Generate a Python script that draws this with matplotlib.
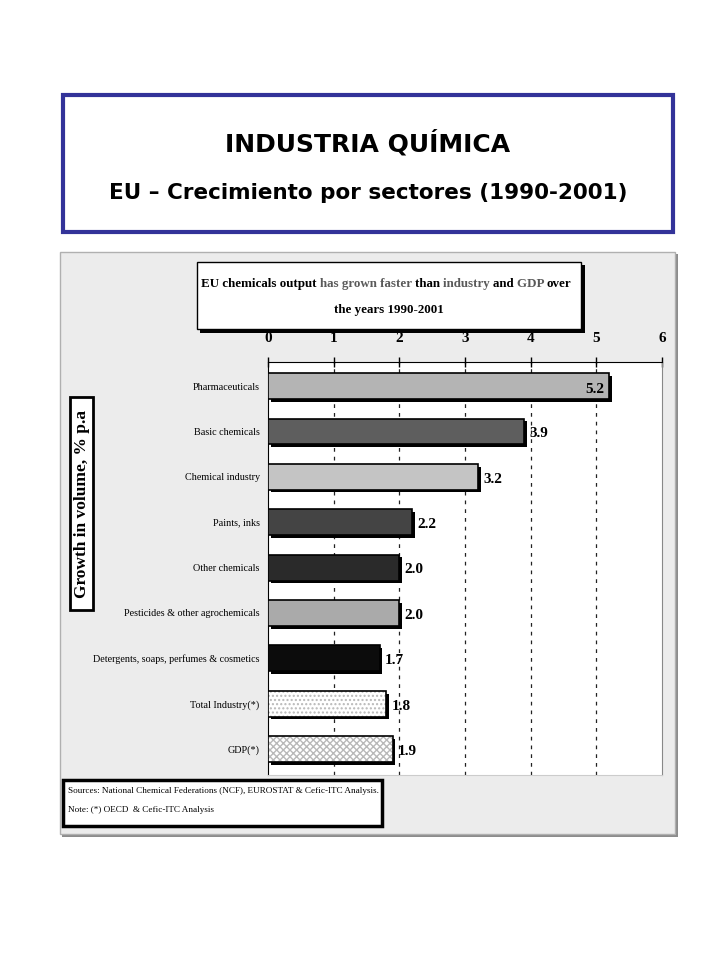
import numpy as np
import matplotlib
matplotlib.use("Agg")
import matplotlib.pyplot as plt
from matplotlib.patches import Rectangle
from matplotlib.text import Annotation

W, H = 720, 960

sectors = ["Pharmaceuticals", "Basic chemicals", "Chemical industry", "Paints, inks",
           "Other chemicals", "Pesticides & other agrochemicals",
           "Detergents, soaps, perfumes & cosmetics", "Total Industry(*)", "GDP(*)"]
growth = [5.2, 3.9, 3.2, 2.2, 2.0, 2.0, 1.7, 1.8, 1.9]
bar_colors = ["#b4b4b4", "#5e5e5e", "#c4c4c4", "#444444", "#2a2a2a",
              "#aaaaaa", "#0c0c0c", "#ffffff", "#ffffff"]
bar_hatch = [None, None, None, None, None, None, None, "....", "xxxxx"]
xticks = [0, 1, 2, 3, 4, 5, 6]

title1 = "INDUSTRIA QUÍMICA"
title2 = "EU – Crecimiento por sectores (1990-2001)"
sub_parts = [("EU chemicals output ", "black"), ("has grown faster ", "#5a5a5a"),
             ("than ", "black"), ("industry ", "#5a5a5a"), ("and ", "black"),
             ("GDP ", "#5a5a5a"), ("over", "black")]
sub_line2 = "the years 1990-2001"
ylabel = "Growth in volume, % p.a"
sources = ["Sources: National Chemical Federations (NCF), EUROSTAT & Cefic-ITC Analysis.",
           "Note: (*) OECD  & Cefic-ITC Analysis"]

SERIF = ["Liberation Serif", "DejaVu Serif"]


def fx(x):
    return x / W


def fy(y):
    return 1 - y / H


def box(x0, y0, x1, y1, **kw):
    r = Rectangle((fx(x0), fy(y1)), fx(x1) - fx(x0), fy(y0) - fy(y1),
                  transform=fig.transFigure, **kw)
    fig.add_artist(r)
    return r


fig = plt.figure(figsize=(7.2, 9.6), dpi=100)
fig.patch.set_facecolor("white")

# main title box
box(63, 95, 673, 232, facecolor="white", edgecolor="#333399", lw=3, zorder=1)
fig.text(fx(368), fy(143), title1, ha="center", va="center", fontsize=18,
         fontweight="bold", family="DejaVu Sans")
fig.text(fx(368), fy(193), title2, ha="center", va="center", fontsize=15.5,
         fontweight="bold", family="DejaVu Sans")

# grey chart panel
box(62, 254, 678, 837, facecolor="#8c8c8c", edgecolor="none", zorder=1)
box(60, 252, 675, 834, facecolor="#ececec", edgecolor="#b0b0b0", lw=1, zorder=1)

# inner title box
box(200, 265, 585, 333, facecolor="black", edgecolor="none", zorder=5)
box(197, 262, 581, 329, facecolor="white", edgecolor="black", lw=1, zorder=5)
sfs = 9.4
prev = fig.text(fx(201), fy(290), sub_parts[0][0], ha="left", va="bottom",
                fontsize=sfs, fontweight="bold", family=SERIF,
                color=sub_parts[0][1], zorder=6)
for txt, col in sub_parts[1:]:
    prev = fig.add_artist(Annotation(txt, xy=(1, 0), xycoords=prev, ha="left",
                                     va="bottom", fontsize=sfs, fontweight="bold",
                                     family=SERIF, color=col, zorder=6))
fig.text(fx(389), fy(310), sub_line2, ha="center", va="center", fontsize=sfs,
         fontweight="bold", family=SERIF, zorder=6)

# plot area
ax = fig.add_axes([fx(268), fy(775), fx(662) - fx(268), fy(362) - fy(775)], zorder=4)
ax.set_facecolor("white")
ypos = np.arange(len(sectors))
bh = 0.57
for i, (v, c, h) in enumerate(zip(growth, bar_colors, bar_hatch)):
    ax.barh(ypos[i] + 0.06, v, left=0.04, height=bh, color="black", zorder=2)
    if h:
        ax.barh(ypos[i], v, height=bh, color="white", edgecolor="#b8b8b8",
                hatch=h, lw=0, zorder=3)
        ax.barh(ypos[i], v, height=bh, fill=False, edgecolor="black", lw=1.2, zorder=4)
    else:
        ax.barh(ypos[i], v, height=bh, color=c, edgecolor="black", lw=1.2, zorder=3)
    if i == 0:
        ax.text(v - 0.08, ypos[i] + 0.08, f"{v:.1f}", ha="right", va="center",
                fontsize=11, fontweight="bold", family=SERIF, zorder=5)
    else:
        ax.text(v + 0.08, ypos[i] + 0.05, f"{v:.1f}", ha="left", va="center",
                fontsize=11, fontweight="bold", family=SERIF, zorder=5)

ax.set_xlim(0, 6)
ax.set_ylim(8.57, -0.53)
ax.set_xticks(xticks)
ax.xaxis.tick_top()
ax.tick_params(axis="x", direction="inout", length=7, width=1, pad=9)
for lab in ax.get_xticklabels():
    lab.set_family(SERIF)
    lab.set_fontweight("bold")
    lab.set_fontsize(11)
ax.set_yticks(ypos)
ax.set_yticklabels(sectors, family=SERIF, fontsize=7.3)
ax.tick_params(axis="y", length=0, pad=6)
for xv in xticks[1:-1]:
    ax.axvline(xv, color="#222222", ls=(0, (3, 4)), lw=0.9, zorder=1)
ax.spines["top"].set_color("black")
ax.spines["left"].set_color("black")
ax.spines["right"].set_color("#888888")
ax.spines["bottom"].set_color("#cccccc")

# vertical label box
box(70, 397, 93, 610, facecolor="white", edgecolor="black", lw=2, zorder=5)
fig.text(fx(82), fy(504), ylabel, rotation=90, ha="center", va="center",
         fontsize=12.5, fontweight="bold", family=SERIF, zorder=6)

# sources box
box(63, 780, 382, 826, facecolor="white", edgecolor="black", lw=2.5, zorder=3)
fig.text(fx(68), fy(791), sources[0], ha="left", va="center", fontsize=6.6,
         family=SERIF, zorder=4)
fig.text(fx(68), fy(810), sources[1], ha="left", va="center", fontsize=6.6,
         family=SERIF, zorder=4)

fig.savefig("out.png", dpi=100)
